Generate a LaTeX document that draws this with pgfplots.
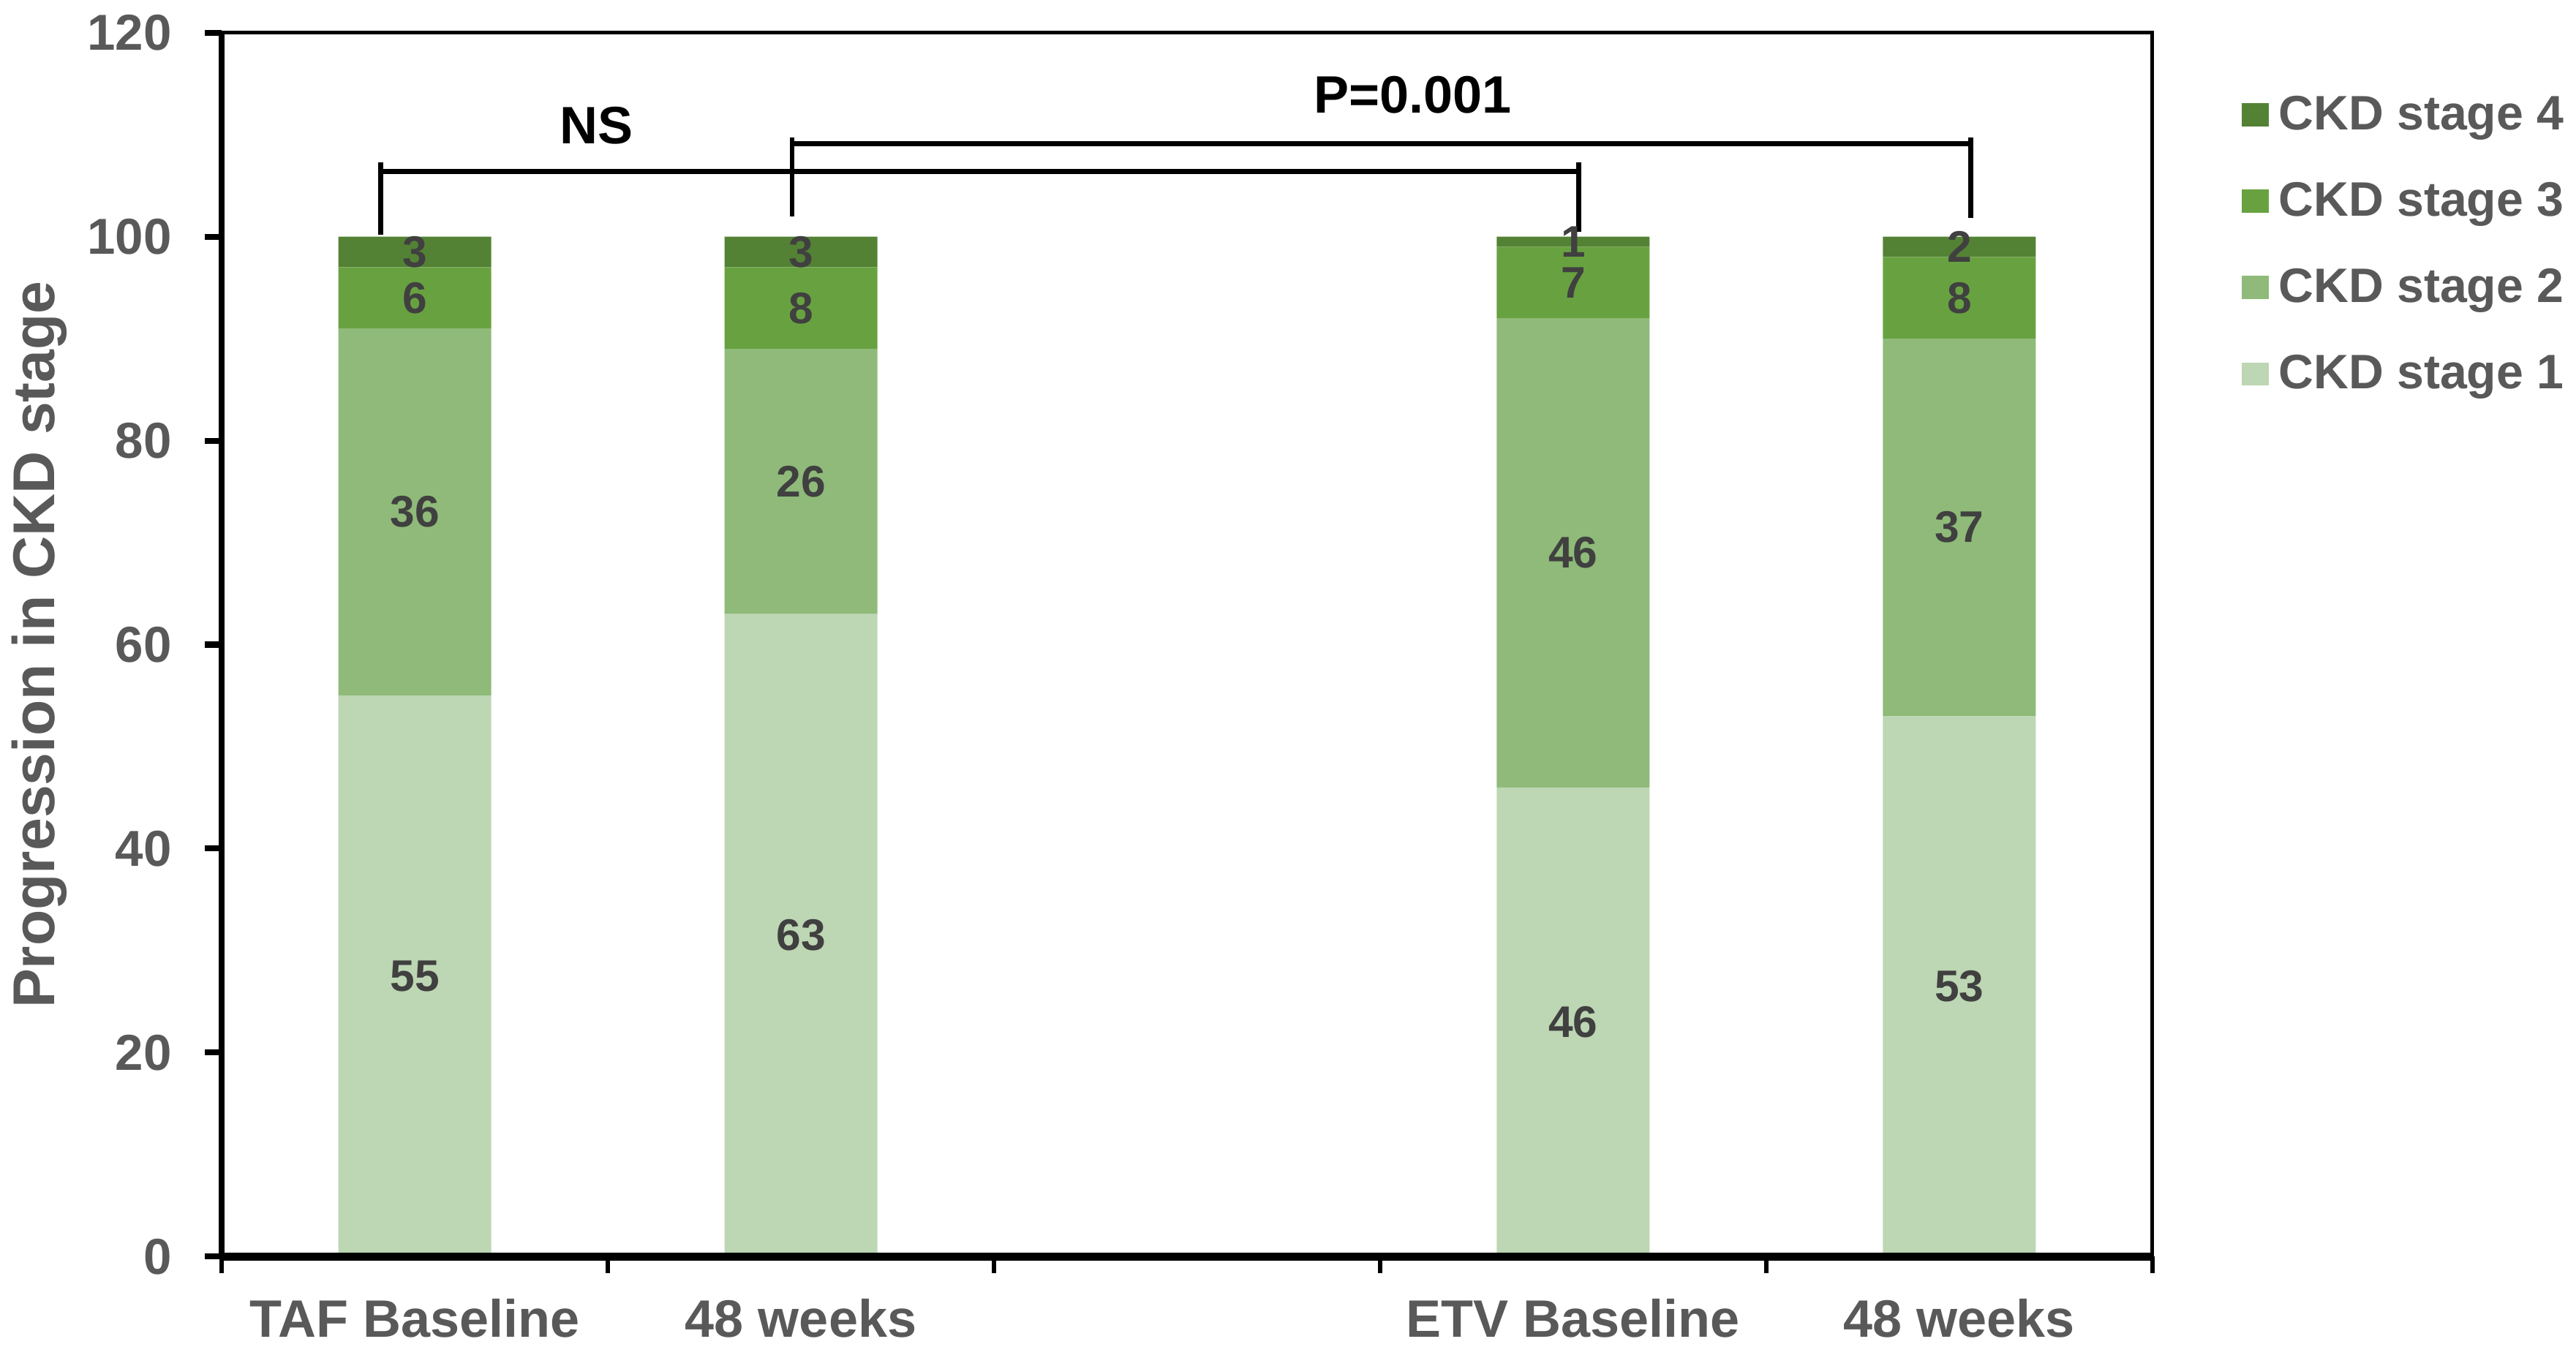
\documentclass[border=0pt]{standalone}
\usepackage{pgfplots}
\pgfplotsset{compat=1.18}
\usepackage{fontspec}
\setmainfont{Liberation Sans}
\definecolor{sone}{HTML}{BDD6B3}
\definecolor{stwo}{HTML}{8FBA79}
\definecolor{sthree}{HTML}{68A240}
\definecolor{sfour}{HTML}{548235}
\definecolor{labelgray}{HTML}{595959}
\definecolor{barlab}{HTML}{404040}
\begin{document}
\begin{tikzpicture}
\useasboundingbox (-52.65pt,-21.45pt) rectangle (558.87pt,298.35pt);
\begin{axis}[
  scale only axis, width=458.3pt, height=290.6pt,
  ybar stacked, bar width=36.3pt,
  xmin=-0.5, xmax=4.5, ymin=0, ymax=120,
  axis line style={black, line width=0.9pt},
  xtick={-0.5,0.5,1.5,2.5,3.5,4.5},
  xticklabels={,,,,,},
  extra x ticks={0,1,3,4},
  extra x tick labels={TAF Baseline,48 weeks,ETV Baseline,48 weeks},
  extra x tick style={major tick length=0pt, tick style={draw=none},
     xticklabel style={anchor=base, yshift=-19.1pt, inner sep=0pt,
       font=\bfseries\fontsize{12.5}{14}\selectfont, text=labelgray}},
  ytick={0,20,...,120},
  tick align=outside, tick pos=left,
  major tick length=4pt,
  x tick style={black, line width=1pt},
  y tick style={black, line width=1.4pt},
  /pgf/number format/assume math mode=true,
  yticklabel style={anchor=east, inner sep=0pt, xshift=-7.7pt,
     font=\bfseries\fontsize{12}{14}\selectfont, text=labelgray},
  ylabel={Progression in CKD stage},
  every axis y label/.style={at={(axis description cs:-0.0868,0.5)}, rotate=90, anchor=base,
     font=\bfseries\fontsize{14}{16}\selectfont, text=labelgray},
  reverse legend,
  legend style={draw=none, fill=none, at={(rel axis cs:1.046,0.9505)}, anchor=north west,
     inner sep=0pt, row sep=9.7pt,
     font=\bfseries\fontsize{11.5}{13}\selectfont, text=labelgray,
     nodes={inner sep=0pt, text height=8.4pt, text depth=2.4pt}},
  legend cell align=left,
  legend image code/.code={\draw[#1,draw=none] (0pt,-2.3pt) rectangle (6.4pt,3.2pt); \path (8.7pt,0pt);},
]
\addplot[fill=sone, draw=none] coordinates {(0,55) (1,63) (3,46) (4,53)};
\addplot[fill=stwo, draw=none] coordinates {(0,36) (1,26) (3,46) (4,37)};
\addplot[fill=sthree, draw=none] coordinates {(0,6) (1,8) (3,7) (4,8)};
\addplot[fill=sfour, draw=none] coordinates {(0,3) (1,3) (3,1) (4,2)};
\legend{CKD stage 1,CKD stage 2,CKD stage 3,CKD stage 4}
\end{axis}
\begin{axis}[
  scale only axis, width=458.3pt, height=290.6pt,
  xmin=-0.5, xmax=4.5, ymin=0, ymax=120,
  hide axis, clip=false,
]
\addplot[draw=none, mark=none, nodes near coords, point meta=explicit symbolic,
  every node near coord/.append style={anchor=center, inner sep=0pt,
    font=\bfseries\fontsize{10.5}{12}\selectfont, text=barlab}]
  table[meta=lab] {
x y lab
0 27.5 55
0 73 36
0 94 6
0 98.5 3
1 31.5 63
1 76 26
1 93 8
1 98.5 3
3 23 46
3 69 46
3 95.5 7
3 99.5 1
4 26.5 53
4 71.5 37
4 94 8
4 99 2
};
\addplot[black, line width=1.2pt, line cap=butt] coordinates {(-0.089,100.2) (-0.089,107.3)};
\addplot[black, line width=1.2pt, line cap=butt] coordinates {(3.014,100.5) (3.014,107.3)};
\addplot[black, line width=1.2pt, line cap=butt] coordinates {(-0.089,106.4) (3.014,106.4)};
\addplot[black, line width=1.2pt, line cap=butt] coordinates {(0.977,102.0) (0.977,109.7)};
\addplot[black, line width=1.2pt, line cap=butt] coordinates {(4.03,101.8) (4.03,109.7)};
\addplot[black, line width=1.2pt, line cap=butt] coordinates {(0.977,109.1) (4.03,109.1)};
\addplot[draw=none, mark=none, nodes near coords, point meta=explicit symbolic,
  every node near coord/.append style={anchor=center, inner sep=0pt,
    font=\bfseries\fontsize{12.5}{14}\selectfont, text=black}]
  table[meta=lab] {
x y lab
0.47 110.9 NS
2.585 113.9 P=0.001
};
\draw[black, line width=1.4pt] (rel axis cs:0,0) -- (rel axis cs:0,1);
\draw[black, line width=1.9pt] (rel axis cs:0,0) -- (rel axis cs:1,0);
\end{axis}
\end{tikzpicture}
\end{document}
